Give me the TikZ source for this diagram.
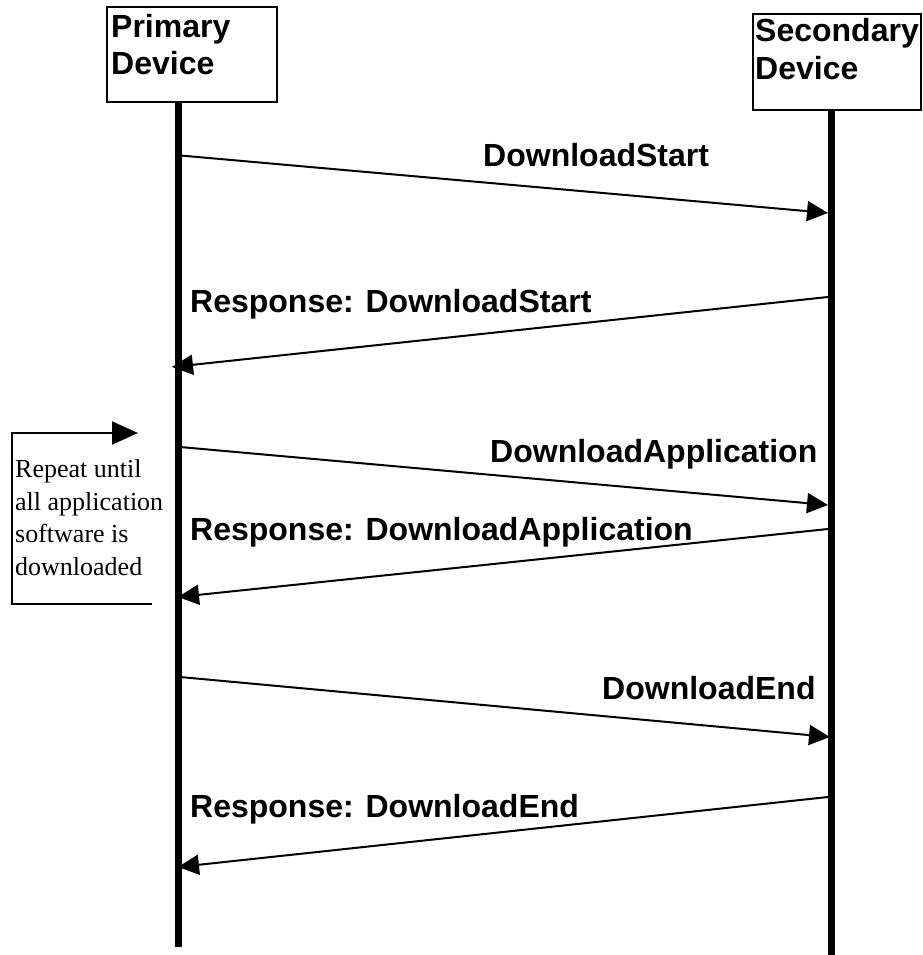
\documentclass[tikz,border=0pt]{standalone}
\usepackage{fontspec}
\setmainfont{Liberation Sans}
\newfontfamily\serifrm{Liberation Serif}
\usetikzlibrary{arrows.meta}
\begin{document}
\begin{tikzpicture}[x=1pt,y=-1pt,
  lifeline/.style={line width=7pt},
  msg/.style={line width=2pt,-{Triangle[length=21pt,width=20pt]}},
  lbl/.style={font=\fontsize{32}{36}\selectfont\bfseries,anchor=base west,inner sep=0pt},
  rep/.style={font=\serifrm\fontsize{26}{33}\selectfont,anchor=base west,inner sep=0pt}]
\useasboundingbox (0,0) rectangle (922,955);
% device boxes
\draw[line width=2pt] (107,7) rectangle (277,102);
\draw[line width=2pt] (753,14) rectangle (921,110);
\node[lbl] (ptitle) at (111,38) {Primary};
\node[lbl] (ptitle2) at (111,75) {Device};
\node[lbl] (stitle) at (755,42) {Secondary};
\node[lbl] (stitle2) at (755,80) {Device};
\coordinate (ptop) at (178,102);
\coordinate (pbot) at (178,947);
\coordinate (stop) at (831,110);
\coordinate (sbot) at (831,955);
\draw[lifeline] (ptop) -- (pbot);
\draw[lifeline] (stop) -- (sbot);
% messages
\coordinate (a1) at (175,155); \coordinate (b1) at (828,213);
\coordinate (a2) at (828,297); \coordinate (b2) at (172,367);
\coordinate (a3) at (180,447); \coordinate (b3) at (828,505);
\coordinate (a4) at (828,529); \coordinate (b4) at (178,597);
\coordinate (a5) at (180,677); \coordinate (b5) at (830,737);
\coordinate (a6) at (828,797); \coordinate (b6) at (178,867);
\draw[msg] (a1) -- (b1);
\draw[msg] (a2) -- (b2);
\draw[msg] (a3) -- (b3);
\draw[msg] (a4) -- (b4);
\draw[msg] (a5) -- (b5);
\draw[msg] (a6) -- (b6);
\node[lbl] (l1) at (483,166) {DownloadStart};
\node[lbl] (l2) at (190,312) {Response: DownloadStart};
\node[lbl] (l3) at (490,462) {DownloadApplication};
\node[lbl] (l4) at (190,540) {Response: DownloadApplication};
\node[lbl] (l5) at (602,699) {DownloadEnd};
\node[lbl] (l6) at (190,817) {Response: DownloadEnd};
% repeat loop
\coordinate (r1) at (152,604);
\coordinate (r2) at (12,604);
\coordinate (r3) at (12,433);
\coordinate (r4) at (138,433);
\draw[line width=2pt,-{Triangle[length=26pt,width=23pt]}] (r1) -- (r2) -- (r3) -- (r4);
\node[rep] (t1) at (15,477) {Repeat until};
\node[rep] (t2) at (15,510) {all application};
\node[rep] (t3) at (15,542) {software is};
\node[rep] (t4) at (15,575) {downloaded};
\end{tikzpicture}
\end{document}
